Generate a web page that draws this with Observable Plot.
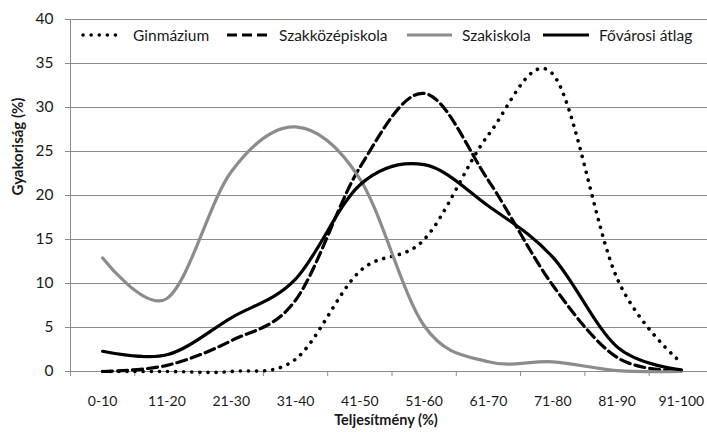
<!DOCTYPE html>
<html>
<head>
<meta charset="utf-8">
<script src="https://cdn.jsdelivr.net/npm/d3@7"></script>
<script src="https://cdn.jsdelivr.net/npm/@observablehq/plot@0.6"></script>
<style>
  html, body { margin: 0; padding: 0; background: #fff; overflow: hidden; }
  #chart { position: relative; width: 707px; height: 432px; font-family: Lato, "Open Sans", sans-serif; }
  #chart svg { display: block; }
  .legend { position: absolute; top: 0; left: 0; width: 707px; height: 0; }
  .legend .item { position: absolute; top: 26px; height: 18px; display: flex; align-items: center; font-size: 15.5px; color: #1a1a1a; white-space: nowrap; }
  .legend .item svg { margin-right: 8px; }
</style>
</head>
<body>
<div id="chart"></div>
<script>
// Score bands (performance, %)
const categories = ["0-10", "11-20", "21-30", "31-40", "41-50", "51-60", "61-70", "71-80", "81-90", "91-100"];

// Share of students in each band (%), by school type
const gimnazium  = [0, 0, 0, 1.4, 11.4, 15.0, 26.9, 33.8, 10.6, 1.0];
const szakkozep  = [0, 0.7, 3.5, 8.1, 23.2, 31.6, 21.7, 9.8, 1.6, 0.1];
const szakiskola = [12.9, 8.3, 22.7, 27.8, 21.9, 5.2, 1.1, 1.1, 0.1, 0];
const fovarosi   = [2.3, 1.9, 6.1, 10.5, 21.2, 23.5, 18.8, 13.0, 2.8, 0.2];

const seriesNames = ["Ginmázium", "Szakközépiskola", "Szakiskola", "Fővárosi átlag"];
const yTicks = [0, 5, 10, 15, 20, 25, 30, 35, 40];

const xTitle = "Teljesítmény (%)";
const yTitle = "Gyakoriság (%)";

// Line styles per series
const styles = [
  {stroke: "#000", strokeWidth: 3.6, strokeDasharray: "0.1,8", strokeLinecap: "round"},
  {stroke: "#000", strokeWidth: 3.2, strokeDasharray: "10,5"},
  {stroke: "#8c8c8c", strokeWidth: 3.2},
  {stroke: "#000", strokeWidth: 3.2}
];

const seriesValues = [gimnazium, szakkozep, szakiskola, fovarosi];
const toRows = values => values.map((v, i) => ({i, v}));
const centers = categories.map((_, i) => i);
const boundaries = d3.range(-0.5, categories.length, 1);
const gridColor = "#8c8c8c";

const plot = Plot.plot({
  width: 707,
  height: 432,
  marginLeft: 70,
  marginRight: 0,
  marginTop: 19,
  marginBottom: 61,
  style: {fontFamily: "Lato, 'Open Sans', sans-serif", background: "white", overflow: "hidden"},
  x: {domain: [-0.5, categories.length - 0.5], range: [70, 713]},
  y: {domain: [0, 40]},
  marks: [
    Plot.gridY(yTicks, {stroke: gridColor, strokeOpacity: 1, strokeWidth: 1}),
    Plot.ruleX([-0.5], {stroke: gridColor, strokeWidth: 1}),
    Plot.axisY(yTicks, {tickSize: 5, tickPadding: 12, stroke: gridColor, fill: "#1a1a1a", fontSize: 15.5, label: null}),
    Plot.axisX(boundaries, {tickSize: 5, tickFormat: () => "", stroke: gridColor, label: null}),
    Plot.axisX(centers, {tickSize: 0, tickPadding: 25, tickFormat: i => categories[i], fill: "#1a1a1a", fontSize: 14, label: null}),
    ...seriesValues.map((values, k) =>
      Plot.line(toRows(values), {x: "i", y: "v", curve: "cardinal", tension: 0, ...styles[k]})
    ),
    Plot.text([xTitle], {text: d => d, frameAnchor: "bottom", dy: 53, dx: -3, fontWeight: "bold", fontSize: 14.5, fill: "#1a1a1a"}),
    Plot.text([yTitle], {text: d => d, frameAnchor: "left", dx: -52, rotate: -90, fontWeight: "bold", fontSize: 15, fill: "#1a1a1a"})
  ]
});

const chart = document.getElementById("chart");
chart.appendChild(plot);

// Legend row inside the top band of the plot
const legendLeft = [81, 227, 407, 543];
const swatchWidth = [42, 42, 45, 46];
const legend = document.createElement("div");
legend.className = "legend";
seriesNames.forEach((name, k) => {
  const item = document.createElement("div");
  item.className = "item";
  item.style.left = legendLeft[k] + "px";
  const w = swatchWidth[k];
  const s = styles[k];
  const ns = "http://www.w3.org/2000/svg";
  const sw = document.createElementNS(ns, "svg");
  sw.setAttribute("width", w + 2);
  sw.setAttribute("height", 10);
  const ln = document.createElementNS(ns, "line");
  ln.setAttribute("x1", k === 0 ? 2 : 0);
  ln.setAttribute("x2", w);
  ln.setAttribute("y1", 5);
  ln.setAttribute("y2", 5);
  ln.setAttribute("stroke", s.stroke);
  ln.setAttribute("stroke-width", s.strokeWidth);
  if (s.strokeDasharray) ln.setAttribute("stroke-dasharray", s.strokeDasharray);
  if (s.strokeLinecap) ln.setAttribute("stroke-linecap", s.strokeLinecap);
  sw.appendChild(ln);
  item.appendChild(sw);
  const label = document.createElement("span");
  label.textContent = name;
  item.appendChild(label);
  legend.appendChild(item);
});
chart.appendChild(legend);
</script>
</body>
</html>
